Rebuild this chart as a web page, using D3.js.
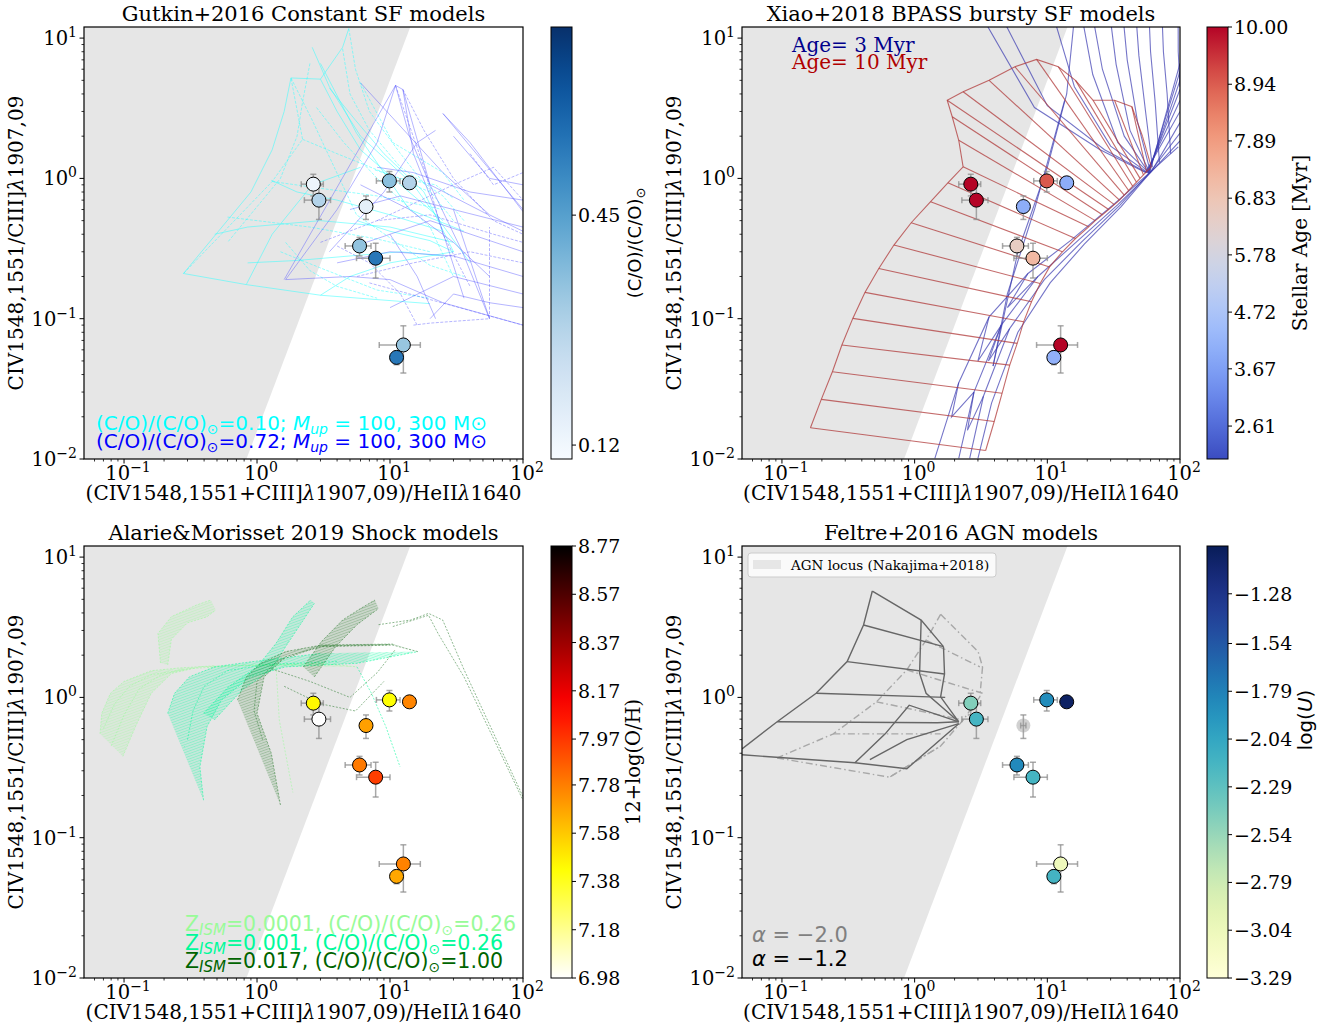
<!DOCTYPE html>
<html>
<head>
<meta charset="utf-8">
<script src="https://cdnjs.cloudflare.com/ajax/libs/d3/7.8.5/d3.min.js"></script>
<style>
body { margin: 0; background: #fff; }
text { font-family: "DejaVu Serif", serif; }
.sans { font-family: "DejaVu Sans", sans-serif; }
</style>
</head>
<body>
<div id="chart"></div>
<script>
// ---- observed galaxies (same in all four panels)
var obsX = [2.65, 2.92, 6.6, 9.9, 14.0, 5.9, 7.8, 12.6, 11.2];
var obsY = [0.91, 0.70, 0.63, 0.96, 0.93, 0.33, 0.27, 0.065, 0.053];
var obsXerr = [0.5, 0.65, 0.3, 2.0, 1.0, 1.3, 2.2, 4.3, 1.0];
var obsYerr = [0.16, 0.19, 0.12, 0.16, 0.05, 0.05, 0.075, 0.024, 0.006];

// colour values of each galaxy in each panel
var coValues = [0.13, 0.29, 0.16, 0.36, 0.29, 0.35, 0.55, 0.34, 0.55];
var ageValues = [10, 10, 4.0, 9.0, 4.0, 6.5, 7.2, 10, 4.1];
var ohValues = [7.45, 6.98, 7.69, 7.43, 7.76, 7.79, 7.95, 7.77, 7.67];
var logUValues = [-2.45, -2.16, null, -1.87, -1.08, -1.84, -2.16, -3.06, -2.15];

// colorbar ticks
var coTicks = [0.12, 0.45];
var ageTicks = [2.61, 3.67, 4.72, 5.78, 6.83, 7.89, 8.94, 10.00];
var ohTicks = [6.98, 7.18, 7.38, 7.58, 7.78, 7.97, 8.17, 8.37, 8.57, 8.77];
var logUTicks = [-3.29, -3.04, -2.79, -2.54, -2.29, -2.04, -1.79, -1.54, -1.28];

// AGN locus of Nakajima+2018 (shaded region)
var agnLocus = [[0.05, 0.01], [0.832, 0.01], [14.2, 12], [0.05, 12]];

// Gutkin+2016 tracks, (C/O)/(C/O)sun = 0.10
var gutkinLow = [
  [[0.28,0.21],[0.83,0.175],[3.0,0.147],[20,0.128]],
  [[0.28,0.21],[1.3,0.95],[2.2,1.9],[1.8,5.2]],
  [[1.8,5.2],[3.0,5.1],[4.4,8.6],[4.9,11.7]],
  [[1.8,5.2],[2.6,2.6],[5.6,0.55],[20,0.24],[36,0.2]],
  [[3.0,6.6],[5.6,2.1],[14,0.6],[36,0.42]],
  [[6,4.8],[10.5,1.8],[25,1.1],[36,0.7]],
  [[0.83,0.175],[1.3,0.4],[2.6,0.9],[6,1.2]],
  [[1.3,0.95],[3,0.85],[8,0.75],[25,0.6]],
  [[0.48,0.4],[0.85,0.45],[3,0.5],[10,0.45],[30,0.35]],
  [[2.2,1.9],[4,1.5],[9,1.1],[20,0.8]],
  [[3,0.147],[5,0.2],[10,0.25],[30,0.3]],
  [[4.9,11.7],[5.5,6],[7,3],[12,1.5],[30,0.5]],
  [[2.6,8.6],[3.5,4.5],[6,2],[15,0.9],[40,0.25]],
  [[1.5,0.3],[3,0.23],[8,0.16],[20,0.14]],
  [[1.8,5.2],[1.6,3.0],[1.3,1.6],[0.9,0.8],[0.28,0.21]],
  [[2.5,6.6],[2.2,3.5],[2.0,2.0],[1.5,1.0],[0.6,0.35]],
  [[3.0,5.1],[4.0,3.0],[6.0,1.6],[12,0.9],[25,0.5]],
  [[4.4,8.4],[5.0,4.0],[7.0,2.2],[12,1.2],[25,0.75],[36,0.5]],
  [[3.5,4.4],[5.5,2.6],[9,1.5],[18,0.8],[30,0.3]],
  [[2.8,3.2],[4.5,1.8],[8,1.0],[20,0.45],[30,0.2]],
  [[1.28,0.97],[2.0,0.8],[4,0.7],[10,0.55],[25,0.42]],
  [[0.6,0.53],[1.0,0.5],[2.5,0.45],[8,0.37],[20,0.3]],
  [[0.85,0.25],[2,0.26],[5,0.28],[12,0.3],[25,0.28]],
  [[1.64,0.35],[2.5,0.22],[4,0.17],[8,0.14]],
  [[5.65,0.5],[10,0.42],[20,0.36],[30,0.3]],
  [[7.7,1.15],[12,1.0],[22,0.9],[30,0.72]]
];
// (C/O)/(C/O)sun = 0.72
var gutkinHigh = [
  [[1.6,0.19],[11,4.6],[12.5,4.3],[20,0.9],[55,0.55]],
  [[11,4.6],[18,1.2],[25,0.4],[40,0.17]],
  [[12.5,4.3],[15,1.5],[22,0.6],[36,0.14]],
  [[25,2.9],[100,0.6]],
  [[7,0.18],[100,0.09]],
  [[5.5,0.33],[20,0.5],[100,0.3]],
  [[6,4.8],[25,1.1],[56,0.55],[100,0.42]],
  [[15,0.09],[20,0.093],[56,0.1],[56,0.45]],
  [[30,0.6],[56,0.1]],
  [[4,0.25],[10,0.3],[30,0.28],[100,0.2]],
  [[8,0.5],[30,0.9],[60,1.2],[100,0.7]],
  [[3.5,0.3],[9,0.8],[16,1.8],[22,2.2]],
  [[10,0.12],[30,0.2],[100,0.15]],
  [[40,1.5],[60,0.9],[100,1.1]],
  [[1.64,0.19],[4,0.6],[8,1.8],[11,4.6]],
  [[11,4.6],[14,2.0],[20,0.9],[35,0.3],[56,0.1]],
  [[12.5,4.3],[18,2.2],[30,1.0],[60,0.5],[100,0.4]],
  [[25,2.9],[40,1.8],[100,0.58]],
  [[1.64,0.19],[5,0.2],[10,0.19],[25,0.13],[100,0.09]],
  [[3,0.35],[8,0.5],[20,0.55],[60,0.4],[100,0.35]],
  [[5,0.6],[12,0.75],[30,0.6],[100,0.45]],
  [[8,1.2],[15,1.1],[40,0.8],[100,0.7]],
  [[5.65,0.2],[15,0.25],[40,0.3],[100,0.25]],
  [[20,0.1],[30,0.15],[56,0.13],[100,0.12]],
  [[30,2.0],[56,1.0],[100,0.9]],
  [[4,0.33],[7,0.25],[12,0.15],[16,0.09]],
  [[10,0.4],[16,0.2],[22,0.1]],
  [[6,0.9],[14,0.6],[30,0.35],[56,0.2]]
];

// Xiao+2018 BPASS, age 10 Myr: left and right ends of each rung
var xiaoOldLeft = [[0.164,0.0167],[0.198,0.0266],[0.240,0.0419],[0.283,0.0649],[0.342,0.1005],
  [0.422,0.154],[0.537,0.228],[0.698,0.335],[0.942,0.483],[1.32,0.682],[1.78,0.931],[2.32,1.21],
  [2.15,1.87],[1.92,2.75],[1.76,3.61],[2.32,4.15],[3.64,5.0],[5.7,6.25],[8.3,7.05],[12.1,6.25],
  [16.3,5.0],[22.1,3.61],[32.1,3.61],[43.4,3.24],[52.3,1.98]];
var xiaoOldRight = [[3.43,0.0115],[3.98,0.0185],[4.56,0.0294],[5.21,0.0467],[5.93,0.0667],
  [6.63,0.095],[7.6,0.132],[8.83,0.178],[10.4,0.234],[13.0,0.300],[16.3,0.373],[20.5,0.452],
  [23,0.5],[26,0.55],[29,0.6],[32,0.65],[35,0.7],[38,0.76],[41,0.82],[44,0.88],
  [47,0.94],[50,1.0],[53,1.06],[56,1.12],[60.8,1.21]];
// age 3 Myr
var xiaoYoung = [
  [[1.42,0.0101],[2.15,0.035],[3.64,0.103],[7.15,0.21],[15.1,0.363],[32.1,0.66],[58.5,1.09],[97,1.68]],
  [[2.15,0.0101],[2.8,0.03],[4.5,0.09],[8.5,0.2],[17,0.36],[34,0.65],[60,1.1],[100,1.85]],
  [[2.6,0.0101],[3.3,0.028],[5.2,0.085],[9.5,0.19],[18,0.35],[35,0.64],[60,1.12],[100,2.1]],
  [[3.0,0.0101],[3.8,0.025],[6,0.08],[10.5,0.18],[19,0.34],[36,0.63],[62,1.15],[100,2.5]],
  [[3.25,14],[8,3.2],[25,1.6],[55,1.1],[100,3.0]],
  [[4.56,14],[10,3.3],[27,1.6],[56,1.1],[100,3.6]],
  [[11.2,14],[16,4.5],[30,1.7],[57,1.1],[100,4.3]],
  [[18.3,14],[22,5.5],[34,1.8],[58,1.1],[100,5.0]],
  [[22.1,14],[26,6],[38,2.0],[58,1.1],[100,5.8]],
  [[29.8,14],[33,6.5],[42,2.2],[59,1.1],[100,6.6]],
  [[37.3,14],[40,7],[48,2.5],[60,1.1]],
  [[46.7,14],[49,7.5],[55,3],[62,1.2]],
  [[58.5,14],[60,8],[65,3.5],[70,1.3]],
  [[73.3,14],[75,8],[80,4],[85,1.5]],
  [[96.8,14],[97,8],[100,4.5]],
  [[13.5,3.6],[8,0.6],[5,0.15],[3.9,0.046]],
  [[3.9,0.046],[6,0.3],[10,1.2],[14,4],[16,14]],
  [[2.15,0.035],[1.9,0.02],[2.8,0.03]],
  [[3.64,0.103],[3.0,0.05],[4.5,0.09]],
  [[7.15,0.21],[5,0.12],[8.5,0.2]],
  [[2.8,0.03],[2.5,0.016],[3.3,0.028]],
  [[4.5,0.09],[3.6,0.05],[5.2,0.085]]
];

// Alarie & Morisset 2019 shock grids: first two curves bound the main sheet,
// next two bound the upper curl, the rest are single tracks
var shockLowZ = [
  [[0.098,0.38],[0.122,0.62],[0.16,1.07],[0.227,1.48],[0.372,1.65],[0.885,1.7],[3.05,1.75],[5.65,1.65]],
  [[0.066,0.55],[0.068,0.77],[0.079,1.07],[0.10,1.3],[0.16,1.55],[0.257,1.62],[0.477,1.68]],
  [[0.188,1.76],[0.18,2.86],[0.227,3.76],[0.35,4.55],[0.45,4.94]],
  [[0.213,1.70],[0.227,2.6],[0.30,3.4],[0.421,3.76],[0.49,4.2]],
  [[1.39,1.65],[1.47,0.69],[1.86,0.21]],
  [[0.08,0.45],[0.1,0.75],[0.13,1.15],[0.19,1.45],[0.3,1.6],[0.7,1.68],[2,1.72]],
  [[0.07,0.6],[0.085,0.9],[0.11,1.2],[0.16,1.45],[0.28,1.58]]
];
var shockMidZ = [
  [[0.396,0.185],[0.372,0.32],[0.421,0.62],[0.54,0.957],[0.885,1.40],[1.64,1.65],[5.65,1.75],[16.2,2.12]],
  [[0.213,0.77],[0.24,1.07],[0.31,1.40],[0.477,1.65],[0.885,1.79],[3.05,2.06]],
  [[0.396,0.77],[0.61,1.19],[1.0,1.65],[1.39,2.43],[1.86,3.76],[2.53,4.94]],
  [[0.477,0.69],[0.78,1.14],[1.28,1.57],[1.64,2.30],[2.23,3.56],[2.7,4.68]],
  [[5.65,1.65],[7.25,1.07],[9.3,0.62],[11.9,0.32]],
  [[0.3,0.5],[0.33,0.8],[0.4,1.2],[0.6,1.55],[1.2,1.72],[4,1.8]]
];
var shockSolar = [
  [[1.5,0.171],[1.28,0.40],[1.0,0.77],[1.13,1.40],[1.64,1.95],[3.05,2.30],[10.5,2.36],[16.2,2.12]],
  [[0.713,0.957],[0.83,1.40],[1.06,1.75],[1.64,2.12],[3.05,2.36],[10.5,2.4]],
  [[2.23,1.65],[3.05,2.5],[4.4,3.56],[6.0,4.3],[7.7,4.94]],
  [[2.7,1.40],[3.9,2.30],[5.65,3.3],[8.2,4.3]],
  [[8.2,3.3],[14.3,3.56],[19.5,3.97],[24.9,3.56],[36.1,1.57],[100,0.196]],
  [[10.5,3.2],[19.5,3.85],[23,2.85],[36,1.40],[100,0.185]],
  [[1.28,1.6],[2.5,1.3],[5,1.0],[8,1.5],[11,2.2]],
  [[1.6,1.2],[3,0.9],[5.5,0.8],[9,1.3]],
  [[1.1,0.5],[0.95,0.8],[1.0,1.3],[1.4,1.8],[3,2.33],[10,2.38]]
];

// Feltre+2016 AGN grids
var agnAlpha12 = [
  [[0.48,5.73],[0.412,3.28],[0.31,1.80],[0.181,1.07],[0.092,0.67],[0.05,0.43]],
  [[0.48,5.73],[1.12,3.56],[1.65,2.30]],
  [[0.412,3.28],[1.65,2.30]],
  [[0.31,1.80],[1.68,1.47]],
  [[0.181,1.07],[1.70,1.0]],
  [[0.092,0.67],[1.48,0.66],[2.15,0.67]],
  [[0.05,0.39],[0.355,0.342],[0.873,0.31],[2.15,0.65]],
  [[1.12,3.56],[1.09,1.48],[1.22,1.07],[2.15,0.67]],
  [[1.65,2.30],[1.68,1.47],[1.57,1.01],[2.15,0.67]],
  [[0.355,0.342],[0.60,0.55],[0.91,0.88],[2.15,0.67]],
  [[0.46,0.36],[0.873,0.50],[2.15,0.65]]
];
var agnAlpha20 = [
  [[1.57,3.91],[1.22,2.56],[0.873,1.57],[0.516,0.93],[0.244,0.55],[0.092,0.37]],
  [[1.57,3.91],[3.01,2.12],[3.25,1.65]],
  [[1.22,2.56],[3.1,1.65]],
  [[0.873,1.57],[3.25,1.07]],
  [[0.516,0.93],[2.32,0.69]],
  [[0.244,0.55],[1.57,0.55]],
  [[0.092,0.37],[0.647,0.27],[1.57,0.45]],
  [[3.25,1.65],[3.1,1.01],[2.32,0.69],[1.57,0.45],[0.647,0.27]]
];

// ---- colormaps
function hotR(t) {
  var s = 1 - t;
  var r = Math.min(1, Math.max(0, s / 0.365));
  var g = Math.min(1, Math.max(0, (s - 0.365) / 0.381));
  var b = Math.min(1, Math.max(0, (s - 0.746) / 0.254));
  return d3.rgb(r * 255, g * 255, b * 255).toString();
}
var coolwarm = d3.interpolateRgbBasis(["#3b4cc0", "#6788ee", "#9abbff", "#c9d7f0", "#edd1c2", "#f7a889", "#e26952", "#b40426"]);

var W = 1341, H = 1032;
var svg = d3.select("#chart").append("svg").attr("width", W).attr("height", H);
var defs = svg.append("defs");

var panels = [
  {left: 84, right: 523, top: 27, bottom: 459, cb: 551, title: "Gutkin+2016 Constant SF models",
   values: coValues, domain: [0.10, 0.72], ticks: coTicks, fmt: d3.format(".2f"), cmap: d3.interpolateBlues},
  {left: 742, right: 1180, top: 27, bottom: 459, cb: 1207, title: "Xiao+2018 BPASS bursty SF models",
   values: ageValues, domain: [2, 10], ticks: ageTicks, fmt: d3.format(".2f"), cmap: coolwarm},
  {left: 84, right: 523, top: 546, bottom: 978, cb: 551, title: "Alarie&Morisset 2019 Shock models",
   values: ohValues, domain: [6.98, 8.77], ticks: ohTicks, fmt: d3.format(".2f"), cmap: hotR},
  {left: 742, right: 1180, top: 546, bottom: 978, cb: 1207, title: "Feltre+2016 AGN models",
   values: logUValues, domain: [-3.29, -1.03], ticks: logUTicks, fmt: function(v) { return d3.format(".2f")(v).replace("-", "\u2212"); }, cmap: d3.interpolateYlGnBu}
];

function sup(sel, base, exp) {
  sel.text(base);
  sel.append("tspan").attr("dy", -8).attr("font-size", 14).text(exp);
}

// hatch patterns for the shock sheets
[["hA", "#98fb98"], ["hB", "#00fa9a"], ["hC", "#2e7d32"]].forEach(function(h) {
  var pt = defs.append("pattern").attr("id", h[0]).attr("width", 2.5).attr("height", 2.5)
    .attr("patternUnits", "userSpaceOnUse").attr("patternTransform", "rotate(70)");
  pt.append("line").attr("x1", 0).attr("y1", 0).attr("x2", 0).attr("y2", 2.5)
    .attr("stroke", h[1]).attr("stroke-width", 0.8).attr("stroke-opacity", 0.8);
});

panels.forEach(function(p, i) {
  var x = d3.scaleLog().domain([0.05, 100]).range([p.left, p.right]);
  var y = d3.scaleLog().domain([0.01, 12]).range([p.bottom, p.top]);
  var g = svg.append("g");
  var clipId = "clip" + i;
  defs.append("clipPath").attr("id", clipId).append("rect")
    .attr("x", p.left).attr("y", p.top).attr("width", p.right - p.left).attr("height", p.bottom - p.top);
  var plot = g.append("g").attr("clip-path", "url(#" + clipId + ")");
  var line = d3.line().x(function(d) { return x(d[0]); }).y(function(d) { return y(d[1]); });

  // AGN locus
  plot.append("path").attr("d", line(agnLocus) + "Z").attr("fill", "#e6e6e6");

  function draw(lines, color, width, opacity, dash) {
    lines.forEach(function(pts, k) {
      plot.append("path").attr("d", line(pts)).attr("fill", "none")
        .attr("stroke", color).attr("stroke-width", width).attr("stroke-opacity", opacity)
        .attr("stroke-dasharray", typeof dash === "function" ? dash(k) : dash);
    });
  }

  if (i === 0) {
    draw(gutkinLow, "#33ffff", 0.8, 0.65, function(k) { return k % 2 ? "3,1.5" : null; });
    draw(gutkinHigh, "#5555ff", 0.8, 0.55, function(k) { return k % 3 === 1 ? "3,1.5" : null; });
  }
  if (i === 1) {
    draw(xiaoYoung, "#3b3bb0", 1.1, 0.7, null);
    var rungs = xiaoOldLeft.map(function(d, k) { return [d, xiaoOldRight[k]]; });
    draw(rungs, "#b03a3a", 1.1, 0.75, null);
    draw([xiaoOldLeft, xiaoOldRight], "#b03a3a", 1.1, 0.75, null);
  }
  if (i === 2) {
    [[shockLowZ, "#98fb98", "hA"], [shockMidZ, "#00fa9a", "hB"], [shockSolar, "#2e7d32", "hC"]].forEach(function(s) {
      var set = s[0];
      [[set[0], set[1]], [set[2], set[3]]].forEach(function(pair) {
        var d = line(pair[0].concat(pair[1].slice().reverse())) + "Z";
        plot.append("path").attr("d", d).attr("fill", s[1]).attr("fill-opacity", 0.15);
        plot.append("path").attr("d", d).attr("fill", "url(#" + s[2] + ")").attr("opacity", 0.7);
      });
      draw(set, s[1], 0.9, 0.6, "2,1.5");
    });
  }
  if (i === 3) {
    draw(agnAlpha20, "#a8a8a8", 1.4, 1, "7,3,1.5,3");
    draw(agnAlpha12, "#666666", 1.4, 1, null);
  }

  // error bars
  var eb = plot.append("g").attr("stroke", "#8c8c8c").attr("stroke-opacity", 0.75).attr("stroke-width", 1.5);
  obsX.forEach(function(vx, k) {
    var vy = obsY[k];
    var x0 = x(vx - obsXerr[k]), x1 = x(vx + obsXerr[k]);
    var y0 = y(vy - obsYerr[k]), y1 = y(vy + obsYerr[k]);
    eb.append("line").attr("x1", x0).attr("x2", x1).attr("y1", y(vy)).attr("y2", y(vy));
    eb.append("line").attr("x1", x(vx)).attr("x2", x(vx)).attr("y1", y0).attr("y2", y1);
    [x0, x1].forEach(function(cx) { eb.append("line").attr("x1", cx).attr("x2", cx).attr("y1", y(vy) - 3).attr("y2", y(vy) + 3); });
    [y0, y1].forEach(function(cy) { eb.append("line").attr("x1", x(vx) - 3).attr("x2", x(vx) + 3).attr("y1", cy).attr("y2", cy); });
  });

  // points
  var cscale = d3.scaleLinear().domain(p.domain).range([0, 1]).clamp(true);
  obsX.forEach(function(vx, k) {
    var v = p.values[k];
    if (v === null) {
      plot.append("circle").attr("cx", x(vx)).attr("cy", y(obsY[k])).attr("r", 7)
        .attr("fill", "#999").attr("fill-opacity", 0.45);
    } else {
      plot.append("circle").attr("cx", x(vx)).attr("cy", y(obsY[k])).attr("r", 7)
        .attr("fill", p.cmap(cscale(v))).attr("stroke", "#000").attr("stroke-width", 1);
    }
  });

  // frame
  g.append("rect").attr("x", p.left).attr("y", p.top).attr("width", p.right - p.left)
    .attr("height", p.bottom - p.top).attr("fill", "none").attr("stroke", "#000").attr("stroke-width", 1.2);

  // x axis
  var xa = g.append("g").attr("transform", "translate(0," + p.bottom + ")");
  var minorX = [];
  [-2, -1, 0, 1].forEach(function(e) { for (var m = 2; m < 10; m++) { var v = m * Math.pow(10, e); if (v > 0.05 && v < 100) minorX.push(v); } });
  minorX.forEach(function(v) { xa.append("line").attr("x1", x(v)).attr("x2", x(v)).attr("y1", 0).attr("y2", 2.5).attr("stroke", "#000").attr("stroke-width", 0.8); });
  [0.1, 1, 10, 100].forEach(function(v) {
    xa.append("line").attr("x1", x(v)).attr("x2", x(v)).attr("y1", 0).attr("y2", 4.5).attr("stroke", "#000");
    var e = Math.round(Math.log10(v));
    xa.append("text").attr("x", x(v) + 4).attr("y", 21).attr("text-anchor", "middle").attr("font-size", 19.5)
      .call(sup, "10", e < 0 ? "\u2212" + (-e) : "" + e);
  });
  // y axis
  var ya = g.append("g").attr("transform", "translate(" + p.left + ",0)");
  var minorY = [];
  [-2, -1, 0, 1].forEach(function(e) { for (var m = 2; m < 10; m++) { var v = m * Math.pow(10, e); if (v < 12) minorY.push(v); } });
  minorY.forEach(function(v) { ya.append("line").attr("y1", y(v)).attr("y2", y(v)).attr("x1", 0).attr("x2", -2.5).attr("stroke", "#000").attr("stroke-width", 0.8); });
  [0.01, 0.1, 1, 10].forEach(function(v) {
    ya.append("line").attr("y1", y(v)).attr("y2", y(v)).attr("x1", 0).attr("x2", -4.5).attr("stroke", "#000");
    var e = Math.round(Math.log10(v));
    ya.append("text").attr("x", -7).attr("y", y(v) + 7).attr("text-anchor", "end").attr("font-size", 19.5)
      .call(sup, "10", e < 0 ? "\u2212" + (-e) : "" + e);
  });

  // titles and axis labels
  g.append("text").attr("x", (p.left + p.right) / 2).attr("y", p.top - 6).attr("text-anchor", "middle")
    .attr("font-size", 21).text(p.title);
  var xl = g.append("text").attr("x", (p.left + p.right) / 2).attr("y", p.bottom + 41).attr("text-anchor", "middle").attr("font-size", 20);
  xl.append("tspan").text("(CIV1548,1551+CIII]");
  xl.append("tspan").attr("font-style", "italic").text("\u03bb");
  xl.append("tspan").text("1907,09)/HeII");
  xl.append("tspan").attr("font-style", "italic").text("\u03bb");
  xl.append("tspan").text("1640");
  var yl = g.append("text").attr("transform", "translate(" + (p.left - 61) + "," + ((p.top + p.bottom) / 2) + ") rotate(-90)")
    .attr("text-anchor", "middle").attr("font-size", 20);
  yl.append("tspan").text("CIV1548,1551/CIII]");
  yl.append("tspan").attr("font-style", "italic").text("\u03bb");
  yl.append("tspan").text("1907,09");

  // colorbar
  var cbw = 21;
  var gid = "grad" + i;
  var grad = defs.append("linearGradient").attr("id", gid)
    .attr("x1", 0).attr("y1", 1).attr("x2", 0).attr("y2", 0);
  d3.range(0, 1.0001, 0.05).forEach(function(t) {
    grad.append("stop").attr("offset", t).attr("stop-color", p.cmap(t));
  });
  g.append("rect").attr("x", p.cb).attr("y", p.top).attr("width", cbw).attr("height", p.bottom - p.top)
    .attr("fill", "url(#" + gid + ")").attr("stroke", "#000").attr("stroke-width", 1);
  var cy = d3.scaleLinear().domain(p.domain).range([p.bottom, p.top]);
  p.ticks.forEach(function(v) {
    g.append("line").attr("x1", p.cb + cbw).attr("x2", p.cb + cbw + 4).attr("y1", cy(v)).attr("y2", cy(v)).attr("stroke", "#000");
    g.append("text").attr("x", p.cb + cbw + 6).attr("y", cy(v) + 7).attr("font-size", 19).text(p.fmt(v));
  });
});

// colorbar labels
svg.append("text").attr("class", "sans").attr("transform", "translate(641,243) rotate(-90)").attr("text-anchor", "middle")
  .attr("font-size", 18).call(function(t) {
    t.append("tspan").text("(C/O)/(C/O)");
    t.append("tspan").attr("dy", 4).attr("font-size", 13).text("\u2299");
  });
svg.append("text").attr("transform", "translate(1307,243) rotate(-90)").attr("text-anchor", "middle")
  .attr("font-size", 20).text("Stellar Age [Myr]");
svg.append("text").attr("transform", "translate(640,762) rotate(-90)").attr("text-anchor", "middle")
  .attr("font-size", 19.5).text("12+log(O/H)");
svg.append("text").attr("class", "sans").attr("transform", "translate(1312,720) rotate(-90)").attr("text-anchor", "middle")
  .attr("font-size", 20).call(function(t) {
    t.append("tspan").text("log(");
    t.append("tspan").attr("font-style", "italic").text("U");
    t.append("tspan").text(")");
  });

// panel 1 legend
[["#00ffff", "0.10", 430], ["#0000ff", "0.72", 448]].forEach(function(l) {
  var t = svg.append("text").attr("class", "sans").attr("x", 96).attr("y", l[2]).attr("font-size", 20).attr("fill", l[0]);
  t.append("tspan").text("(C/O)/(C/O)");
  t.append("tspan").attr("dy", 4).attr("font-size", 14).text("\u2299");
  t.append("tspan").attr("dy", -4).text("=" + l[1] + "; ");
  t.append("tspan").attr("font-style", "italic").text("M");
  t.append("tspan").attr("font-style", "italic").attr("dy", 4).attr("font-size", 14).text("up");
  t.append("tspan").attr("dy", -4).text(" = 100, 300 M\u2299");
});

// panel 2 legend
svg.append("text").attr("x", 792).attr("y", 52).attr("font-size", 20).attr("fill", "#00008b").text("Age= 3 Myr");
svg.append("text").attr("x", 792).attr("y", 69).attr("font-size", 20).attr("fill", "#b00000").text("Age= 10 Myr");

// panel 3 legend
[["#98fb98", "0.0001", "0.26", 931], ["#00fa9a", "0.001", "0.26", 950], ["#006400", "0.017", "1.00", 968]].forEach(function(l) {
  var t = svg.append("text").attr("class", "sans").attr("x", 185).attr("y", l[3]).attr("font-size", 20.5).attr("fill", l[0]);
  t.append("tspan").text("Z");
  t.append("tspan").attr("font-style", "italic").attr("dy", 4).attr("font-size", 15).text("ISM");
  t.append("tspan").attr("dy", -4).text("=" + l[1] + ", (C/O)/(C/O)");
  t.append("tspan").attr("dy", 4).attr("font-size", 14).text("\u2299");
  t.append("tspan").attr("dy", -4).text("=" + l[2]);
});

// panel 4 legends
var lg = svg.append("g");
lg.append("rect").attr("x", 748).attr("y", 553).attr("width", 248).attr("height", 24).attr("rx", 3)
  .attr("fill", "#fff").attr("fill-opacity", 0.8).attr("stroke", "#cccccc");
lg.append("rect").attr("x", 753).attr("y", 560).attr("width", 28).attr("height", 9).attr("fill", "#e6e6e6");
lg.append("text").attr("x", 791).attr("y", 570).attr("font-size", 13.5).text("AGN locus (Nakajima+2018)");
[["#808080", "2.0", 942], ["#000000", "1.2", 966]].forEach(function(l) {
  var t = svg.append("text").attr("class", "sans").attr("x", 752).attr("y", l[2]).attr("font-size", 21).attr("fill", l[0]);
  t.append("tspan").attr("font-style", "italic").text("\u03b1");
  t.append("tspan").text(" = \u2212" + l[1]);
});
</script>
</body>
</html>
